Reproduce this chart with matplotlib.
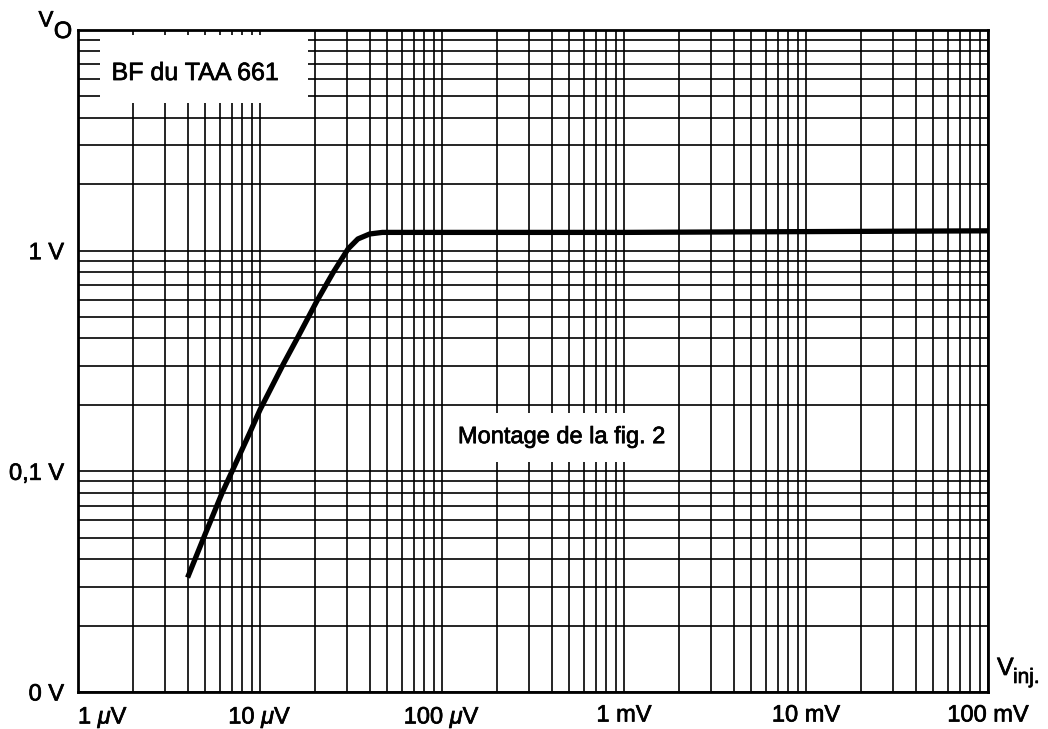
import numpy as np
import matplotlib
matplotlib.use("Agg")
import matplotlib.pyplot as plt
import matplotlib.patheffects as pe
from matplotlib.patches import Rectangle

plt.rcParams['font.family'] = ['Liberation Sans', 'DejaVu Sans']
plt.rcParams['mathtext.fontset'] = 'custom'
plt.rcParams['mathtext.rm'] = 'Liberation Sans'
plt.rcParams['mathtext.it'] = 'Liberation Sans:italic'

# curve (V_inj in volts, V_O in volts)
v_inj = [4.0e-6, 5.0e-6, 6.2e-6, 8.8e-6, 1.0e-5, 1.34e-5, 1.6e-5, 2.06e-5,
         2.52e-5, 3.05e-5, 3.45e-5, 4.0e-5, 4.7e-5, 1e-4, 1e-3, 1e-2, 1e-1]
v_out = [0.033, 0.052, 0.080, 0.150, 0.19, 0.305, 0.40, 0.594,
         0.795, 1.02, 1.13, 1.19, 1.21, 1.21, 1.21, 1.22, 1.23]

x_ticks = [1e-6, 1e-5, 1e-4, 1e-3, 1e-2, 1e-1]
x_labels = [r'1 $\mu$V', r'10 $\mu$V', r'100 $\mu$V', '1 mV', '10 mV', '100 mV']
y_ticks = [0.01, 0.1, 1]
y_labels = ['0 V', '0,1 V', '1 V']

# scanned print look: slightly heavier letters
thick = [pe.withStroke(linewidth=0.5, foreground='black')]

fig = plt.figure(figsize=(10.48, 7.29), dpi=100)
ax = fig.add_axes([78/1048, 1 - 692/729, 910/1048, 662/729])
ax.set_xscale('log')
ax.set_yscale('log')
ax.set_xlim(1e-6, 1e-1)
ax.set_ylim(0.01, 10)

ax.set_xticks(x_ticks)
ax.set_xticklabels(x_labels, fontsize=17)
ax.set_yticks(y_ticks)
ax.set_yticklabels(y_labels, fontsize=17)
ax.xaxis.set_minor_locator(matplotlib.ticker.LogLocator(base=10, subs=np.arange(2, 10)))
ax.yaxis.set_minor_locator(matplotlib.ticker.LogLocator(base=10, subs=np.arange(2, 10)))
ax.xaxis.set_minor_formatter(matplotlib.ticker.NullFormatter())
ax.yaxis.set_minor_formatter(matplotlib.ticker.NullFormatter())
ax.tick_params(which='both', length=0)
ax.tick_params(axis='x', pad=9)
ax.tick_params(axis='y', pad=10)
ax.get_xticklabels()[0].set_horizontalalignment('left')
for t in ax.get_xticklabels() + ax.get_yticklabels():
    t.set_path_effects(thick)

ax.grid(which='both', color='black', linewidth=1.2)
ax.set_axisbelow(True)
for s in ax.spines.values():
    s.set_linewidth(2.0)

ax.plot(v_inj, v_out, color='black', linewidth=3.8, solid_capstyle='butt', zorder=4)

# white label boxes that cut the grid
ax.add_patch(Rectangle((0.024, 0.890), 0.229, 0.102, transform=ax.transAxes,
                       facecolor='white', edgecolor='none', zorder=3))
ax.text(0.1286, 0.935, 'BF du TAA 661', transform=ax.transAxes, fontsize=18,
        ha='center', va='center', zorder=5, path_effects=thick)
ax.add_patch(Rectangle((0.403, 0.347), 0.254, 0.074, transform=ax.transAxes,
                       facecolor='white', edgecolor='none', zorder=3))
ax.text(0.532, 0.385, 'Montage de la fig. 2', transform=ax.transAxes, fontsize=17,
        ha='center', va='center', zorder=5, path_effects=thick)

# axis names
fig.text(46/1048, 1 - 21/729, 'V', fontsize=16, ha='center', va='center', path_effects=thick)
fig.text(63/1048, 1 - 32/729, 'O', fontsize=17, ha='center', va='center', path_effects=thick)
fig.text(997/1048, 1 - 675/729, 'V', fontsize=18, ha='left', va='baseline', path_effects=thick)
fig.text(1013/1048, 1 - 683/729, 'inj.', fontsize=15, ha='left', va='baseline', path_effects=thick)

fig.savefig('out.png', dpi=100)
